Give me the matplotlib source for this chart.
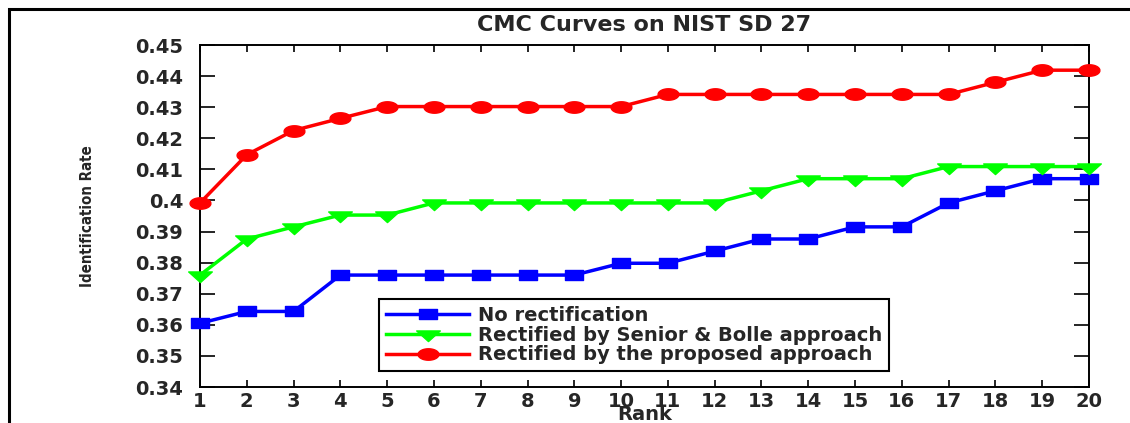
import numpy as np
import matplotlib
matplotlib.use("Agg")
import matplotlib.pyplot as plt
from matplotlib.path import Path
from matplotlib.patches import Rectangle
from matplotlib import font_manager as fm

# ---- data ----
ranks = list(range(1, 21))
no_rect = [0.3605, 0.3643, 0.3643, 0.3760, 0.3760, 0.3760, 0.3760, 0.3760, 0.3760, 0.3798,
           0.3798, 0.3837, 0.3876, 0.3876, 0.3915, 0.3915, 0.3992, 0.4031, 0.4070, 0.4070]
senior_bolle = [0.3760, 0.3876, 0.3915, 0.3953, 0.3953, 0.3992, 0.3992, 0.3992, 0.3992, 0.3992,
                0.3992, 0.3992, 0.4031, 0.4070, 0.4070, 0.4070, 0.4109, 0.4109, 0.4109, 0.4109]
proposed = [0.3992, 0.4147, 0.4225, 0.4264, 0.4302, 0.4302, 0.4302, 0.4302, 0.4302, 0.4302,
            0.4341, 0.4341, 0.4341, 0.4341, 0.4341, 0.4341, 0.4341, 0.4380, 0.4419, 0.4419]
series_labels = ["No rectification",
                 "Rectified by Senior & Bolle approach",
                 "Rectified by the proposed approach"]
yticks = [0.34, 0.35, 0.36, 0.37, 0.38, 0.39, 0.40, 0.41, 0.42, 0.43, 0.44, 0.45]
ytick_labels = ["0.34", "0.35", "0.36", "0.37", "0.38", "0.39", "0.4", "0.41", "0.42",
                "0.43", "0.44", "0.45"]
title = "CMC Curves on NIST SD 27"
xlabel = "Rank"
ylabel = "Identification Rate"

# ---- stretched markers (reference is horizontally stretched) ----
square_m = Path([(-1, -0.55), (1, -0.55), (1, 0.55), (-1, 0.55), (-1, -0.55)],
                [Path.MOVETO, Path.LINETO, Path.LINETO, Path.LINETO, Path.CLOSEPOLY])
tri_m = Path([(-1, 0.3), (1, 0.3), (0, -0.6), (-1, 0.3)],
             [Path.MOVETO, Path.LINETO, Path.LINETO, Path.CLOSEPOLY])
t = np.linspace(0, 2 * np.pi, 41)
ell_m = Path(np.column_stack([np.cos(t), 0.55 * np.sin(t)]))

txt_col = "#262626"
plt.rcParams["font.family"] = ["DejaVu Sans"]
plt.rcParams["font.weight"] = "bold"

# try to find a condensed font for the y label
ylab_props = dict(family=["Liberation Sans"], fontsize=11.5)
for fam, stretch in [("Liberation Sans Narrow", "normal"), ("DejaVu Sans", "condensed")]:
    try:
        p = fm.findfont(fm.FontProperties(family=fam, stretch=stretch, weight="bold"),
                        fallback_to_default=False)
        if "Narrow" in p or "Condensed" in p:
            ylab_props = dict(family=[fam], fontstretch=stretch,
                              fontsize=13.5 if "Narrow" in p else 10.8)
            break
    except Exception:
        pass

fig = plt.figure(figsize=(11.30, 4.23), dpi=100)
W, H = 1130, 423
ax = fig.add_axes([200 / W, 1 - 387 / H, 889 / W, 342 / H])

ax.plot(ranks, no_rect, color=(0, 0, 1), lw=2.5, marker=square_m, markersize=13,
        markerfacecolor=(0, 0, 1), markeredgecolor=(0, 0, 1), clip_on=False,
        label=series_labels[0], zorder=3)
ax.plot(ranks, senior_bolle, color=(0, 1, 0), lw=2.5, marker=tri_m, markersize=17,
        markerfacecolor=(0, 1, 0), markeredgecolor=(0, 1, 0), clip_on=False,
        label=series_labels[1], zorder=3)
ax.plot(ranks, proposed, color=(1, 0, 0), lw=2.5, marker=ell_m, markersize=15,
        markerfacecolor=(1, 0, 0), markeredgecolor=(1, 0, 0), clip_on=False,
        label=series_labels[2], zorder=3)

ax.set_xlim(1, 20)
ax.set_ylim(0.34, 0.45)
ax.set_xticks(ranks)
ax.set_xticklabels([str(r) for r in ranks])
ax.set_yticks(yticks)
ax.set_yticklabels(ytick_labels)

for s in ax.spines.values():
    s.set_linewidth(1.4)
    s.set_color("black")
ax.tick_params(axis="both", which="both", direction="in", top=True, right=True,
               width=1.2, colors="black", labelcolor=txt_col, labelsize=14)
ax.tick_params(axis="x", length=5, pad=3.5)
ax.tick_params(axis="y", length=11, pad=12)
for lab in ax.get_xticklabels() + ax.get_yticklabels():
    lab.set_fontweight("bold")

ax.set_title(title, fontsize=16, fontweight="bold", color=txt_col, pad=10)
ax.set_xlabel(xlabel, fontsize=14, fontweight="bold", color=txt_col, va="bottom")
ax.xaxis.set_label_coords(0.5, (387 - 424) / 342)
ax.set_ylabel(ylabel, fontweight="bold", color=txt_col, va="center", **ylab_props)
ax.yaxis.set_label_coords((88 - 200) / 889, 0.5)

leg = ax.legend(loc="center left", bbox_to_anchor=((379 - 200) / 889, (387 - 335) / 342),
                borderaxespad=0, fancybox=False, framealpha=1, edgecolor="black",
                prop={"size": 14, "weight": "bold"}, handlelength=4.3, handletextpad=0.45,
                labelspacing=0.05, borderpad=0.35)
leg.get_frame().set_linewidth(1.5)
for txt in leg.get_texts():
    txt.set_color(txt_col)

# outer border frame (extends past right/bottom image edges)
fig.patches.append(Rectangle((9 / W, -0.2), 1.2, 1 - 9 / H + 0.2, transform=fig.transFigure,
                             fill=False, edgecolor="black", linewidth=2.2, clip_on=False))

fig.savefig("out.png", dpi=100)
